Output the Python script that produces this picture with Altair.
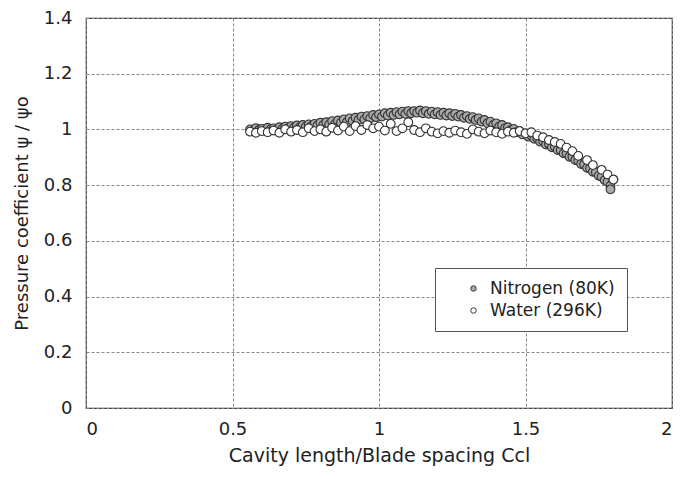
import altair as alt
import pandas as pd

nitrogen_x = [0.56, 0.57, 0.58, 0.59, 0.60, 0.61, 0.62, 0.63, 0.64, 0.65, 0.66, 0.67, 0.68, 0.69,
              0.70, 0.71, 0.72, 0.73, 0.74, 0.75, 0.76, 0.77, 0.78, 0.79, 0.80, 0.81, 0.82, 0.83,
              0.84, 0.85, 0.86, 0.87, 0.88, 0.89, 0.90, 0.91, 0.92, 0.93, 0.94, 0.95, 0.96, 0.97,
              0.98, 0.99, 1.00, 1.01, 1.02, 1.03, 1.04, 1.05, 1.06, 1.07, 1.08, 1.09, 1.10, 1.11,
              1.12, 1.13, 1.14, 1.15, 1.16, 1.17, 1.18, 1.19, 1.20, 1.21, 1.22, 1.23, 1.24, 1.25,
              1.26, 1.27, 1.28, 1.29, 1.30, 1.31, 1.32, 1.33, 1.34, 1.35, 1.36, 1.37, 1.38, 1.39,
              1.40, 1.41, 1.42, 1.43, 1.44, 1.45, 1.46, 1.47, 1.48, 1.49, 1.50, 1.51, 1.52, 1.53,
              1.54, 1.55, 1.56, 1.57, 1.58, 1.59, 1.60, 1.61, 1.62, 1.63, 1.64, 1.65, 1.66, 1.67,
              1.68, 1.69, 1.70, 1.71, 1.72, 1.73, 1.74, 1.75, 1.76, 1.77, 1.78, 1.79, 1.79, 1.80]
nitrogen_y = [1.000, 0.995, 1.005, 0.998, 1.002, 0.996, 1.006, 1.000, 1.004, 0.998, 1.008, 1.002, 1.010, 1.004,
              1.012, 1.006, 1.014, 1.008, 1.016, 1.010, 1.018, 1.012, 1.020, 1.014, 1.024, 1.016, 1.026, 1.018,
              1.030, 1.020, 1.032, 1.024, 1.036, 1.026, 1.040, 1.030, 1.042, 1.034, 1.046, 1.036, 1.048, 1.040,
              1.052, 1.044, 1.054, 1.046, 1.058, 1.050, 1.060, 1.052, 1.062, 1.054, 1.064, 1.056, 1.066, 1.058,
              1.066, 1.060, 1.068, 1.058, 1.066, 1.056, 1.064, 1.054, 1.062, 1.052, 1.060, 1.050, 1.058, 1.048,
              1.056, 1.046, 1.052, 1.042, 1.048, 1.038, 1.044, 1.034, 1.040, 1.028, 1.034, 1.022, 1.028, 1.016,
              1.022, 1.010, 1.016, 1.004, 1.008, 0.998, 1.002, 0.990, 0.994, 0.982, 0.986, 0.974, 0.978, 0.966,
              0.968, 0.956, 0.958, 0.946, 0.948, 0.936, 0.938, 0.926, 0.926, 0.914, 0.914, 0.902, 0.902, 0.890,
              0.888, 0.876, 0.874, 0.862, 0.860, 0.848, 0.846, 0.834, 0.830, 0.818, 0.812, 0.798, 0.785, 0.820]

water_x = [0.56, 0.58, 0.60, 0.62, 0.64, 0.66, 0.68, 0.70, 0.72, 0.74, 0.76, 0.78, 0.80, 0.82,
           0.84, 0.86, 0.88, 0.90, 0.92, 0.94, 0.96, 0.98, 1.00, 1.02, 1.04, 1.06, 1.08, 1.10,
           1.12, 1.14, 1.16, 1.18, 1.20, 1.22, 1.24, 1.26, 1.28, 1.30, 1.32, 1.34, 1.36, 1.38,
           1.40, 1.42, 1.44, 1.46, 1.48, 1.50, 1.52, 1.54, 1.56, 1.58, 1.60, 1.62, 1.64, 1.66,
           1.68, 1.71, 1.73, 1.76, 1.78, 1.80]
water_y = [0.992, 0.988, 0.994, 0.990, 0.996, 0.988, 1.000, 0.992, 0.998, 0.990, 1.004, 0.994, 1.000, 0.992,
           1.006, 0.996, 1.010, 0.994, 1.012, 0.998, 1.016, 1.004, 1.010, 0.996, 1.020, 0.994, 1.004, 1.026,
           0.998, 0.990, 1.004, 0.992, 0.986, 0.994, 0.988, 0.996, 0.990, 0.984, 1.000, 0.992, 0.986, 0.996,
           0.990, 0.984, 0.992, 0.988, 0.994, 0.986, 0.990, 0.978, 0.972, 0.962, 0.955, 0.948, 0.935, 0.922,
           0.905, 0.890, 0.872, 0.855, 0.838, 0.820]

series_names = ["Nitrogen (80K)", "Water (296K)"]
x_ticks = [0, 0.5, 1, 1.5, 2]
y_ticks = [0, 0.2, 0.4, 0.6, 0.8, 1.0, 1.2, 1.4]

df = pd.concat([
    pd.DataFrame({"x": nitrogen_x, "y": nitrogen_y, "series": series_names[0]}),
    pd.DataFrame({"x": water_x, "y": water_y, "series": series_names[1]}),
], ignore_index=True)

FONT = "DejaVu Sans"

points = alt.Chart(df).mark_point(
    filled=True, size=76, stroke="#333333", strokeWidth=1.1, opacity=1
).encode(
    x=alt.X("x:Q", scale=alt.Scale(domain=[0, 2], nice=False),
            axis=alt.Axis(values=x_ticks, title="Cavity length/Blade spacing Ccl",
                          format="~g", ticks=False, labelPadding=12, titlePadding=8,
                          titleFontSize=19,
                          gridDash=[3, 2], gridColor="#888888", domain=False)),
    y=alt.Y("y:Q", scale=alt.Scale(domain=[0, 1.4], nice=False),
            axis=alt.Axis(values=y_ticks, title="Pressure coefficient  ψ / ψo",
                          format="~g", ticks=False, labelPadding=14, titlePadding=12,
                          titleFontSize=18,
                          gridDash=[3, 2], gridColor="#888888", domain=False)),
    fill=alt.Fill("series:N", scale=alt.Scale(domain=series_names, range=["#a9a9a9", "#ffffff"]),
                  legend=alt.Legend(title=None, orient="none", legendX=349, legendY=250,
                                    fillColor="white", strokeColor="#555555", padding=12,
                                    symbolSize=30, symbolStrokeColor="#333333", symbolStrokeWidth=1,
                                    symbolType="circle", labelFontSize=17, labelFont=FONT,
                                    labelColor="#222222", rowPadding=4, symbolOffset=18,
                                    labelOffset=8)),
    order=alt.Order("series:N", sort="ascending"),
)

chart = points.properties(
    width=586, height=390,
    padding={"left": 78, "top": 10, "right": 1, "bottom": 60},
    autosize="none",
).configure_view(
    stroke="#333333", strokeWidth=1.2
).configure_axis(
    labelFont=FONT, labelFontSize=18, labelColor="#222222",
    titleFont=FONT, titleColor="#222222", titleFontWeight="normal",
    gridOpacity=1, gridWidth=1,
)

chart.save("out.html", embed_options={"renderer": "svg", "actions": False})
